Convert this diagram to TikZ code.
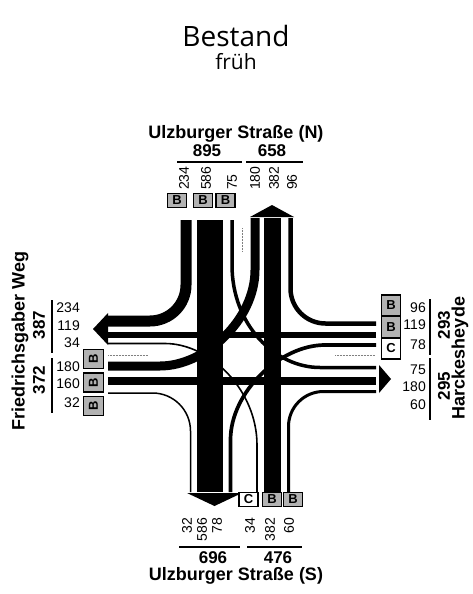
\documentclass[tikz,border=0pt]{standalone}
\usepackage{fontspec}
\setmainfont{Liberation Sans}
\newfontfamily\titlefont{Open Sans}

\begin{document}
\begin{tikzpicture}[x=1pt, y=-1pt,
        flow/.style={line width=#1, line cap=butt, line join=round},
        num/.style={font=\fontsize{14}{14}\selectfont, inner sep=0pt},
        vnum/.style={num, rotate=90},
        total/.style={font=\fontsize{17}{17}\selectfont\bfseries, inner sep=0pt},
        street/.style={font=\fontsize{18}{18}\selectfont\bfseries, inner sep=0pt},
        lane/.style={draw, line width=1.2pt, fill=black!30, inner sep=0pt,
            minimum width=19pt, minimum height=14pt, font=\fontsize{13}{13}\selectfont\bfseries},
        vlane/.style={lane, minimum width=19pt, minimum height=20pt},
        bar/.style={line width=1.5pt},
        median/.style={gray, line width=0.5pt, densely dotted}]
    \useasboundingbox (0,0) rectangle (472,594);

    % Title
    \node[font=\titlefont\fontsize{28}{28}\selectfont, anchor=base, inner sep=0pt] (title) at (236,47) {Bestand};
    \node[font=\titlefont\fontsize{21}{21}\selectfont, anchor=base, inner sep=0pt] (sub) at (236,70) {früh};

    % Straight streams
    \draw[flow=26pt] (210,220) -- (210,492);
    \draw[flow=17pt] (272,492) -- (272,218);
    \draw[flow=5.5pt] (376,335) -- (108,335);
    \draw[flow=7.5pt] (108,381) -- (376,381);

    % Right turns
    \draw[flow=11pt, rounded corners=36pt] (186,220) -- (186,321) -- (108,321);
    \draw[flow=4.5pt, rounded corners=35pt] (376,323.5) -- (290.5,323.5) -- (290.5,218);
    \draw[flow=3pt, rounded corners=35pt] (288.5,492) -- (288.5,391.5) -- (376,391.5);
    \draw[flow=1.5pt, rounded corners=38pt] (108,393) -- (190.5,393) -- (190.5,492);

    % Left turns
    \draw[flow=9pt] (108,366) -- (160,366) .. controls (205,366) and (255,320) .. (255,270) -- (255,218);
    \draw[flow=3.5pt] (232,220) -- (232,265) .. controls (232,325) and (275,367.5) .. (320,367.5) -- (376,367.5);
    \draw[flow=3.7pt] (376,345) -- (325,345) .. controls (280,345) and (230.5,392) .. (230.5,440) -- (230.5,492);
    \draw[flow=1.6pt] (257,492) -- (257,445) .. controls (257,390) and (210,343.5) .. (165,343.5) -- (108,343.5);

    % Medians
    \draw[median] (108,355) -- (148,355);
    \draw[median] (335,355) -- (375,355);
    \draw[median] (242,228) -- (242,252);

    % Arrow heads
    \fill (250,217) -- (294,217) -- (272,205) -- cycle;
    \fill (108,313) -- (108,345) -- (93,329) -- cycle;
    \fill (379,365) -- (379,393) -- (391,379) -- cycle;
    \fill (187,493) -- (242,493) -- (214.5,506) -- cycle;

    % Lane boxes
    \node[lane] (bN1) at (177,200.5) {B};
    \node[lane] (bN2) at (203,200.5) {B};
    \node[lane] (bN3) at (225.5,200.5) {B};
    \node[lane, fill=white] (cS1) at (248.5,499.5) {C};
    \node[lane] (bS2) at (272,499.5) {B};
    \node[lane] (bS3) at (293,499.5) {B};
    \node[vlane, rotate=90] (bW1) at (93.5,359) {B};
    \node[vlane, rotate=90] (bW2) at (93.5,382.5) {B};
    \node[vlane, rotate=90] (bW3) at (93.5,406) {B};
    \node[vlane, minimum height=21pt] (bE1) at (391,305.5) {B};
    \node[vlane, minimum height=21pt] (bE2) at (391,327) {B};
    \node[vlane, minimum height=21pt, fill=white] (cE3) at (391,348.5) {C};

    % Volumes
    \foreach \x/\v in {184/234, 206/586, 232/75, 255/180, 274/382, 292/96}
        \node[vnum, anchor=west] (nN-\v) at (\x,190) {\v};
    \foreach \x/\v in {187/32, 202/586, 217/78, 250/34, 270/382, 289/60}
        \node[vnum, anchor=east] (nS-\v) at (\x,518) {\v};
    \foreach \y/\v in {308/234, 326/119, 343/34, 367/180, 384/160, 403/32}
        \node[num, anchor=east] (nW-\v) at (80,\y) {\v};
    \foreach \y/\v in {308/96, 325/119, 345/78, 370/75, 387/180, 405/60}
        \node[num, anchor=east] (nE-\v) at (426,\y) {\v};

    % North
    \draw[bar] (177,162) -- (242,162);
    \draw[bar] (246,162) -- (303,162);
    \node[total] (tN1) at (207,151) {895};
    \node[total] (tN2) at (272,151) {658};
    \node[street] (sN) at (236,134) {Ulzburger Straße (N)};

    % South
    \draw[bar] (179,547) -- (240,547);
    \draw[bar] (247,547) -- (302,547);
    \node[total] (tS1) at (213,558) {696};
    \node[total] (tS2) at (278,558) {476};
    \node[street] (sS) at (236,576) {Ulzburger Straße (S)};

    % West
    \draw[bar] (52,300) -- (52,353);
    \draw[bar] (52,358) -- (52,413);
    \node[total, rotate=90] (tW1) at (39,325) {387};
    \node[total, rotate=90] (tW2) at (39,380) {372};
    \node[street, rotate=90] (sW) at (20,341) {Friedrichsgaber Weg};

    % East
    \draw[bar] (430,299) -- (430,355);
    \draw[bar] (430,358) -- (430,420);
    \node[total, rotate=90] (tE1) at (444,325) {293};
    \node[total, rotate=90] (tE2) at (444,386) {295};
    \node[street, rotate=90] (sE) at (460,358) {Harckesheyde};
\end{tikzpicture}
\end{document}
